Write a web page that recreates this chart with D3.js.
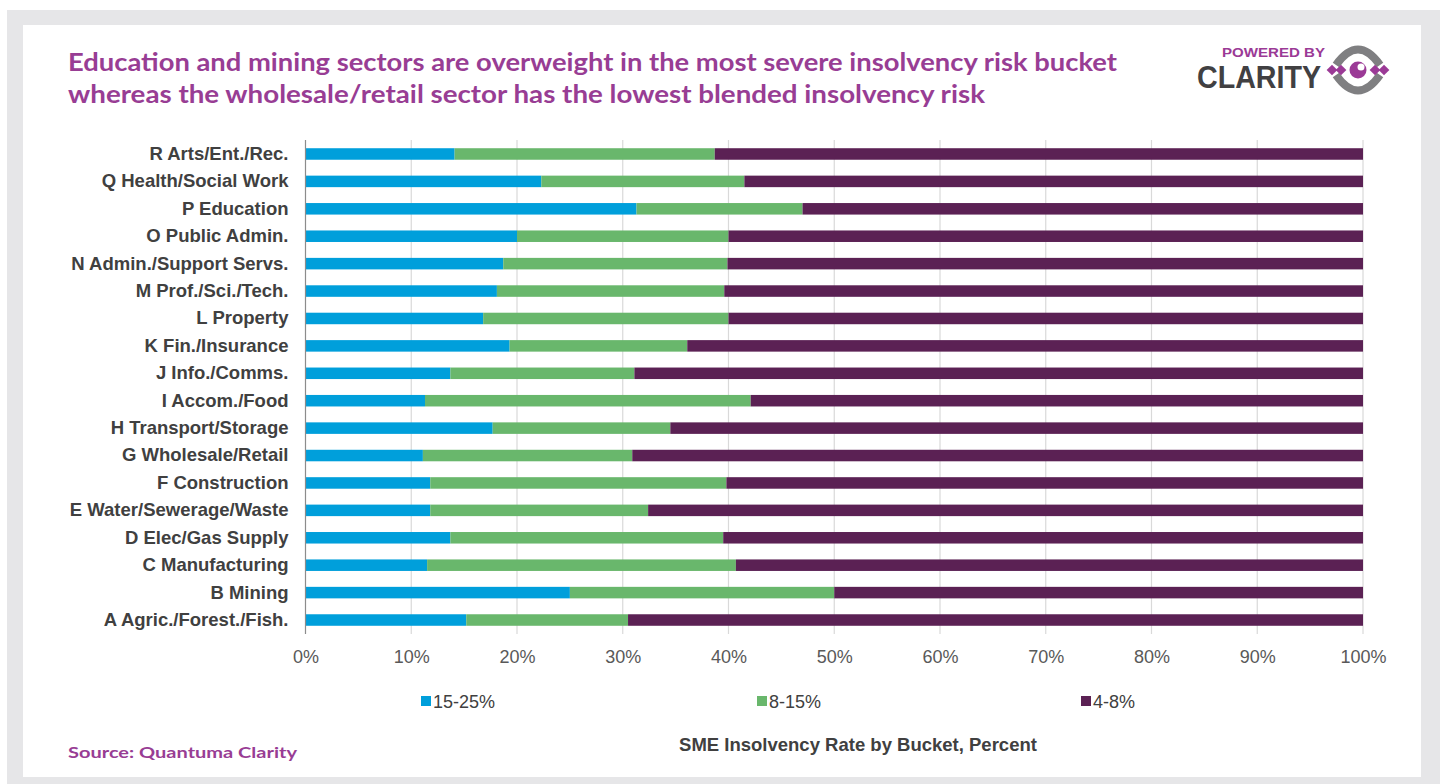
<!DOCTYPE html>
<html>
<head>
<meta charset="utf-8">
<script src="https://cdn.jsdelivr.net/npm/d3@7"></script>
<style>
  html, body { margin: 0; padding: 0; background: #ffffff; }
  svg { display: block; }
</style>
</head>
<body>
<svg id="chart" width="1440" height="784"></svg>
<script>
// Sectors, top to bottom
const sectors = [
  "R Arts/Ent./Rec.", "Q Health/Social Work", "P Education", "O Public Admin.",
  "N Admin./Support Servs.", "M Prof./Sci./Tech.", "L Property", "K Fin./Insurance",
  "J Info./Comms.", "I Accom./Food", "H Transport/Storage", "G Wholesale/Retail",
  "F Construction", "E Water/Sewerage/Waste", "D Elec/Gas Supply", "C Manufacturing",
  "B Mining", "A Agric./Forest./Fish."
];
// Share of SMEs in each insolvency-rate bucket (%)
const bucket15to25 = [14.1, 22.3, 31.3, 20.0, 18.7, 18.1, 16.8, 19.3, 13.7, 11.3, 17.7, 11.1, 11.8, 11.8, 13.7, 11.5, 25.0, 15.2];
const bucket8to15  = [24.6, 19.2, 15.7, 20.0, 21.2, 21.5, 23.2, 16.8, 17.4, 30.8, 16.8, 19.8, 28.0, 20.6, 25.8, 29.2, 25.0, 15.3];
const bucket4to8   = [61.3, 58.5, 53.0, 60.0, 60.1, 60.4, 60.0, 63.9, 68.9, 57.9, 65.5, 69.1, 60.2, 67.6, 60.5, 59.3, 50.0, 69.5];
const seriesNames = ["15-25%", "8-15%", "4-8%"];
const seriesColors = ["#009fdb", "#69b76c", "#5b2154"];
const xTicks = [0, 10, 20, 30, 40, 50, 60, 70, 80, 90, 100];

const rows = sectors.map((s, i) => ({
  sector: s, "15-25%": bucket15to25[i], "8-15%": bucket8to15[i], "4-8%": bucket4to8[i]
}));

const svg = d3.select("#chart");
const W = 1440, H = 784;

// Frame: grey border around white card
svg.append("rect").attr("x", 7).attr("y", 10).attr("width", W - 7).attr("height", H - 10).attr("fill", "#e6e6e8");
svg.append("rect").attr("x", 23).attr("y", 25).attr("width", 1398).attr("height", 752).attr("fill", "#ffffff");

const titleFont = "Lato, 'Open Sans', sans-serif";
const bodyFont = "'Liberation Sans', Arial, sans-serif";
const purple = "#983d94";

// Headline
const titleLines = [
  "Education and mining sectors are overweight in the most severe insolvency risk bucket",
  "whereas the wholesale/retail sector has the lowest blended insolvency risk"
];
const titleWidths = [1049, 917];
svg.selectAll("text.title").data(titleLines).join("text")
  .attr("class", "title")
  .attr("x", 68).attr("y", (d, i) => 71 + i * 32)
  .attr("font-family", titleFont).attr("font-weight", 700).attr("font-size", 24)
  .attr("fill", purple)
  .attr("textLength", (d, i) => titleWidths[i]).attr("lengthAdjust", "spacingAndGlyphs")
  .text(d => d);

// Logo
const logo = svg.append("g");
logo.append("text").attr("x", 1222).attr("y", 56.5)
  .attr("font-family", bodyFont).attr("font-weight", 700).attr("font-size", 13.5)
  .attr("fill", "#9b3a96").attr("textLength", 103).attr("lengthAdjust", "spacingAndGlyphs")
  .text("POWERED BY");
logo.append("text").attr("x", 1197).attr("y", 87.5)
  .attr("font-family", bodyFont).attr("font-weight", 700).attr("font-size", 31)
  .attr("fill", "#414042").attr("textLength", 124).attr("lengthAdjust", "spacingAndGlyphs")
  .text("CLARITY");
const eye = logo.append("g").attr("transform", "translate(1358,70)");
eye.append("path").attr("d", "M-22,-5 Q0,-36 22,-5").attr("fill", "none").attr("stroke", "#7f7f81").attr("stroke-width", 8);
eye.append("path").attr("d", "M-22,5 Q0,36 22,5").attr("fill", "none").attr("stroke", "#7f7f81").attr("stroke-width", 8);
[-26, -17, 17, 26].forEach(cx => {
  eye.append("rect").attr("x", -3.8).attr("y", -3.8).attr("width", 7.6).attr("height", 7.6)
    .attr("fill", "#9b3a96").attr("transform", `translate(${cx},0) rotate(45)`);
});
eye.append("circle").attr("r", 8.5).attr("fill", "#9b3a96");
eye.append("circle").attr("cx", 3).attr("cy", -3).attr("r", 3.5).attr("fill", "#ffffff");

// Plot area
const m = { left: 305.5, right: 1363, top: 140, bottom: 634 };
const x = d3.scaleLinear().domain([0, 100]).range([m.left, m.right]);
const y = d3.scaleBand().domain(sectors).range([m.top, m.bottom]).paddingInner(0.58).paddingOuter(0.3);

// Vertical gridlines
svg.append("g").selectAll("line").data(xTicks.slice(1)).join("line")
  .attr("x1", d => x(d)).attr("x2", d => x(d))
  .attr("y1", m.top).attr("y2", m.bottom)
  .attr("stroke", "#d9d9d9").attr("stroke-width", 1.2);

// Stacked bars
const stack = d3.stack().keys(seriesNames);
const layers = stack(rows);
svg.append("g").selectAll("g").data(layers).join("g")
  .attr("fill", (d, i) => seriesColors[i])
  .selectAll("rect").data(d => d).join("rect")
  .attr("x", d => x(d[0]))
  .attr("y", d => y(d.data.sector))
  .attr("width", d => x(d[1]) - x(d[0]))
  .attr("height", y.bandwidth());

// Category axis line
svg.append("line").attr("x1", m.left).attr("x2", m.left).attr("y1", m.top).attr("y2", m.bottom)
  .attr("stroke", "#8c8c8c").attr("stroke-width", 1.2);

// Category labels
const yAxis = d3.axisLeft(y).tickSize(0).tickPadding(17);
const yg = svg.append("g").attr("transform", `translate(${m.left},0)`).call(yAxis);
yg.select(".domain").remove();
yg.selectAll("text").attr("font-family", bodyFont).attr("font-weight", 700)
  .attr("font-size", 18.5).attr("fill", "#404040");

// Value axis labels
const xAxis = d3.axisBottom(x).tickValues(xTicks).tickFormat(d => d + "%").tickSize(0).tickPadding(0);
const xg = svg.append("g").attr("transform", `translate(0,650)`).call(xAxis);
xg.select(".domain").remove();
xg.selectAll("text").attr("font-family", bodyFont).attr("font-size", 18).attr("fill", "#595959");

// Legend
const legendX = [421, 757, 1081];
const lg = svg.append("g").selectAll("g").data(seriesNames).join("g")
  .attr("transform", (d, i) => `translate(${legendX[i]},701)`);
lg.append("rect").attr("x", 0).attr("y", -5).attr("width", 10).attr("height", 10)
  .attr("fill", (d, i) => seriesColors[i]);
lg.append("text").attr("x", 12).attr("y", 7)
  .attr("font-family", bodyFont).attr("font-size", 18).attr("fill", "#404040")
  .text(d => d);

// Axis title
svg.append("text").attr("x", 858).attr("y", 751).attr("text-anchor", "middle")
  .attr("font-family", bodyFont).attr("font-weight", 700).attr("font-size", 18.5).attr("fill", "#404040")
  .text("SME Insolvency Rate by Bucket, Percent");

// Source
svg.append("text").attr("x", 68).attr("y", 758)
  .attr("font-family", titleFont).attr("font-weight", 700).attr("font-size", 16).attr("fill", purple)
  .attr("textLength", 229).attr("lengthAdjust", "spacingAndGlyphs")
  .text("Source: Quantuma Clarity");
</script>
</body>
</html>
